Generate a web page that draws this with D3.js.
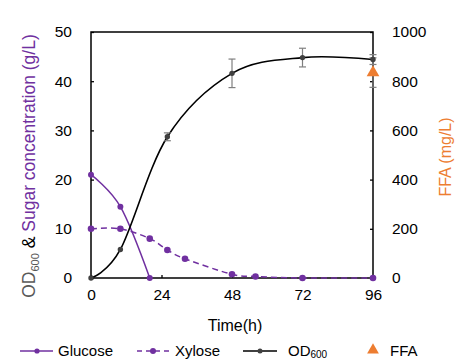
<!DOCTYPE html>
<html><head><meta charset="utf-8">
<script src="https://cdn.jsdelivr.net/npm/d3@7"></script>
<style>body{margin:0;background:#fff}svg{display:block;font-family:Arial,"Liberation Sans",sans-serif}</style>
</head><body><svg id="c" width="474" height="360"></svg>
<script>
const glucoseT = [0, 10, 20];
const glucoseV = [21, 14.5, 0];
const xyloseT = [0, 10, 20, 26, 32, 48, 56, 72, 96];
const xyloseV = [10, 10, 8, 5.7, 3.9, 0.75, 0.3, 0, 0];
const odT = [0, 10, 26, 48, 72, 96];
const odV = [0, 5.8, 28.7, 41.6, 44.8, 44.4];
const odErr = [0, 0, 0.8, 2.9, 1.9, 1.0];
const ffaT = [96];
const ffaV = [835];
const ffaErr = [60];
const xTicks = [0, 24, 48, 72, 96];
const yLeftTicks = [0, 10, 20, 30, 40, 50];
const yRightTicks = [0, 200, 400, 600, 800, 1000];

const purple = "#7030A0", orange = "#ED7D31", gray = "#595959";
const svg = d3.select("#c");
const L = 91, R = 373, T = 32, B = 278;
const x = d3.scaleLinear().domain([0, 96]).range([L, R]);
const yL = d3.scaleLinear().domain([0, 50]).range([B, T]);
const yR = d3.scaleLinear().domain([0, 1000]).range([B, T]);

// axes
const axL = svg.append("g").attr("transform", `translate(${L},0)`)
  .call(d3.axisLeft(yL).tickValues(yLeftTicks).tickFormat(d3.format("d")).tickSize(-3).tickPadding(19));
const axR = svg.append("g").attr("transform", `translate(${R},0)`)
  .call(d3.axisRight(yR).tickValues(yRightTicks).tickFormat(d3.format("d")).tickSize(-3).tickPadding(19));
const axB = svg.append("g").attr("transform", `translate(0,${B})`)
  .call(d3.axisBottom(x).tickValues(xTicks).tickFormat(d3.format("d")).tickSize(-3).tickPadding(11));
[axL, axR, axB].forEach(a => {
  a.select(".domain").remove();
  a.selectAll("line").attr("stroke", "#000").attr("stroke-width", 1.3);
  a.selectAll("text").attr("font-size", 15.5).attr("fill", "#000").attr("font-family", "Arial, 'Liberation Sans', sans-serif");
});
svg.append("rect").attr("x", L).attr("y", T).attr("width", R - L).attr("height", B - T)
  .attr("fill", "none").attr("stroke", "#000").attr("stroke-width", 1.5);

const curve = d3.curveCardinal.tension(0);

// glucose
const gData = glucoseT.map((t, i) => [t, glucoseV[i]]);
svg.append("path").attr("d", d3.line().x(d => x(d[0])).y(d => yL(d[1])).curve(curve)(gData))
  .attr("fill", "none").attr("stroke", purple).attr("stroke-width", 1.5);
// xylose
const xData = xyloseT.map((t, i) => [t, xyloseV[i]]);
svg.append("path").attr("d", d3.line().x(d => x(d[0])).y(d => yL(d[1])).curve(curve)(xData))
  .attr("fill", "none").attr("stroke", purple).attr("stroke-width", 1.5).attr("stroke-dasharray", "6,4");
// od
const oData = odT.map((t, i) => [t, odV[i], odErr[i]]);
svg.append("path").attr("d", d3.line().x(d => x(d[0])).y(d => yL(d[1])).curve(curve)(oData))
  .attr("fill", "none").attr("stroke", "#000").attr("stroke-width", 1.6);

// FFA error bars
const fData = ffaT.map((t, i) => [t, ffaV[i], ffaErr[i]]);
fData.forEach(d => {
  const g = svg.append("g").attr("stroke", "#7f7f7f").attr("stroke-width", 1.2);
  g.append("line").attr("x1", x(d[0])).attr("x2", x(d[0])).attr("y1", yR(d[1] - d[2])).attr("y2", yR(d[1] + d[2]));
  [d[1] - d[2], d[1] + d[2]].forEach(v => g.append("line").attr("x1", x(d[0]) - 3.5).attr("x2", x(d[0]) + 3.5).attr("y1", yR(v)).attr("y2", yR(v)));
});
// OD error bars
oData.filter(d => d[2] > 0).forEach(d => {
  const g = svg.append("g").attr("stroke", "#7f7f7f").attr("stroke-width", 1.2);
  g.append("line").attr("x1", x(d[0])).attr("x2", x(d[0])).attr("y1", yL(d[1] - d[2])).attr("y2", yL(d[1] + d[2]));
  [d[1] - d[2], d[1] + d[2]].forEach(v => g.append("line").attr("x1", x(d[0]) - 3.5).attr("x2", x(d[0]) + 3.5).attr("y1", yL(v)).attr("y2", yL(v)));
});

// markers
svg.append("g").selectAll("circle").data(gData).join("circle")
  .attr("cx", d => x(d[0])).attr("cy", d => yL(d[1])).attr("r", 3).attr("fill", purple);
svg.append("g").selectAll("circle").data(xData).join("circle")
  .attr("cx", d => x(d[0])).attr("cy", d => yL(d[1])).attr("r", 3.3).attr("fill", purple);
svg.append("g").selectAll("circle").data(oData).join("circle")
  .attr("cx", d => x(d[0])).attr("cy", d => yL(d[1])).attr("r", 2.7).attr("fill", "#404040");
const tri = d3.symbol().type(d3.symbolTriangle).size(70);
svg.append("g").selectAll("path").data(fData).join("path")
  .attr("d", tri).attr("transform", d => `translate(${x(d[0])},${yR(d[1])})`).attr("fill", orange);

// axis titles
const yt = svg.append("text").attr("transform", "translate(35,166) rotate(-90)")
  .attr("text-anchor", "middle").attr("font-size", 17.5);
yt.append("tspan").attr("fill", gray).text("OD");
yt.append("tspan").attr("fill", gray).attr("font-size", 11).attr("dy", 4).text("600");
yt.append("tspan").attr("fill", "#000").attr("dy", -4).text(" & ");
yt.append("tspan").attr("fill", purple).text("Sugar concentration (g/L)");

svg.append("text").attr("transform", "translate(451,157) rotate(-90)").attr("text-anchor", "middle")
  .attr("font-size", 16).attr("fill", orange).text("FFA (mg/L)");

svg.append("text").attr("x", 235).attr("y", 331).attr("text-anchor", "middle")
  .attr("font-size", 16).attr("fill", "#000").text("Time(h)");

// legend
const ly = 351;
const lg = svg.append("g").attr("font-size", 15).attr("fill", "#000");
lg.append("line").attr("x1", 20).attr("x2", 53).attr("y1", ly).attr("y2", ly).attr("stroke", purple).attr("stroke-width", 1.5);
lg.append("circle").attr("cx", 37).attr("cy", ly).attr("r", 2.6).attr("fill", purple);
lg.append("text").attr("x", 58).attr("y", ly + 5).text("Glucose");
lg.append("line").attr("x1", 137).attr("x2", 170).attr("y1", ly).attr("y2", ly).attr("stroke", purple).attr("stroke-width", 1.5).attr("stroke-dasharray", "5,4");
lg.append("circle").attr("cx", 153).attr("cy", ly).attr("r", 3).attr("fill", purple);
lg.append("text").attr("x", 175).attr("y", ly + 5).text("Xylose");
lg.append("line").attr("x1", 243).attr("x2", 277).attr("y1", ly).attr("y2", ly).attr("stroke", "#000").attr("stroke-width", 1.5);
lg.append("circle").attr("cx", 260).attr("cy", ly).attr("r", 2.5).attr("fill", "#404040");
const odl = lg.append("text").attr("x", 288).attr("y", ly + 5);
odl.append("tspan").text("OD");
odl.append("tspan").attr("font-size", 10).attr("dy", 2).text("600");
lg.append("path").attr("d", d3.symbol().type(d3.symbolTriangle).size(60)).attr("transform", `translate(373,${ly - 1})`).attr("fill", orange);
lg.append("text").attr("x", 390).attr("y", ly + 5).text("FFA");
</script></body></html>
